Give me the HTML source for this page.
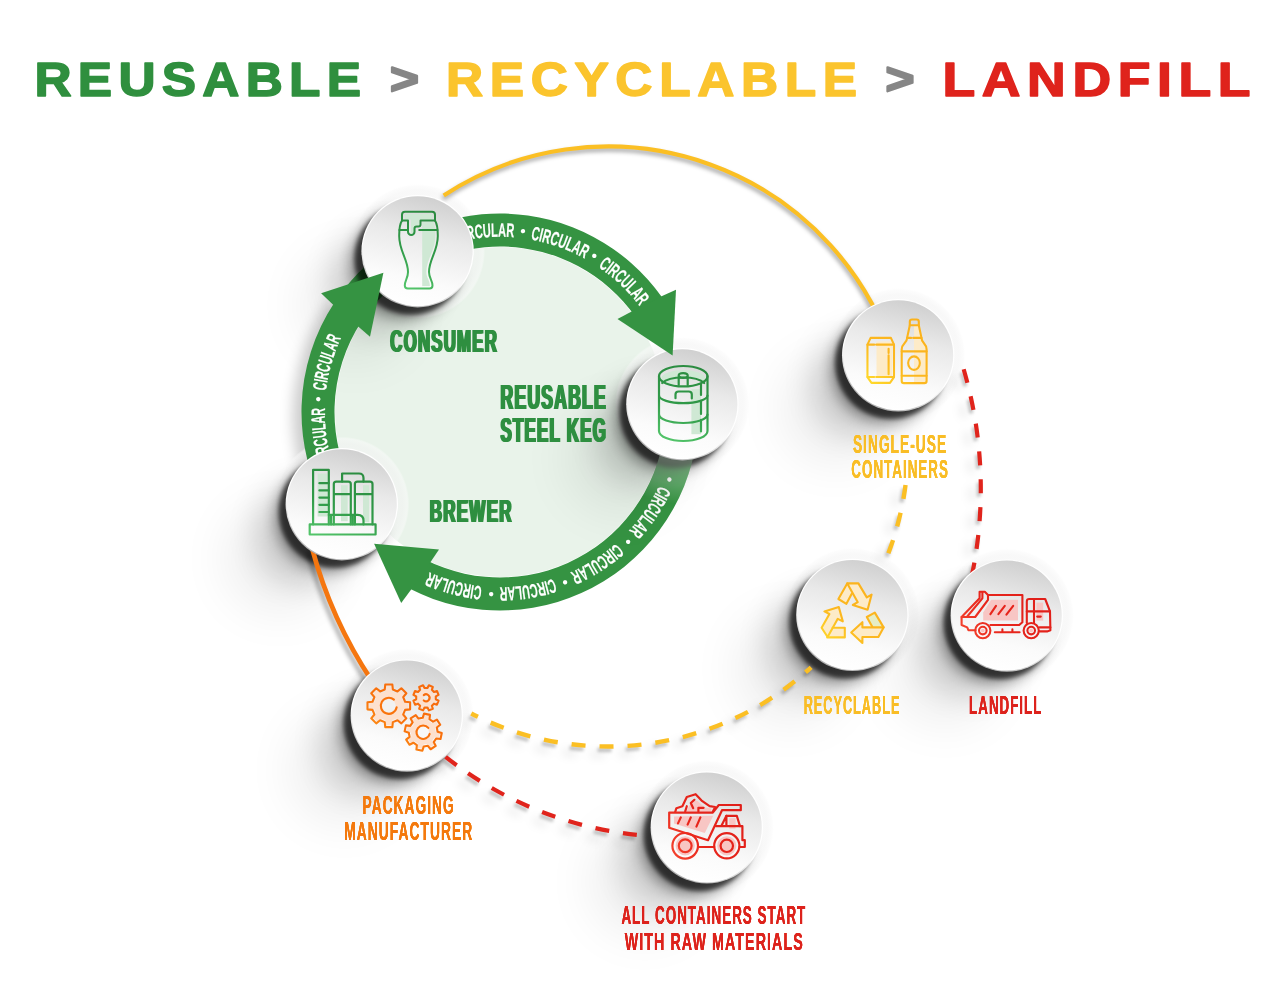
<!DOCTYPE html>
<html lang="en"><head><meta charset="utf-8"><title>Reusable &gt; Recyclable &gt; Landfill</title>
<style>
html,body{margin:0;padding:0;background:#fff;}
body{width:1284px;height:1000px;overflow:hidden;font-family:"Liberation Sans",sans-serif;}
svg{display:block}
.lab{font-family:"Liberation Sans",sans-serif;font-weight:bold}
</style></head><body>
<svg width="1284" height="1000" viewBox="0 0 1284 1000" style="opacity:0.999">
<defs>
<linearGradient id="face" x1="0.62" y1="0" x2="0.38" y2="1">
 <stop offset="0" stop-color="#cfcfcf"/><stop offset="0.35" stop-color="#e9e9e9"/><stop offset="0.75" stop-color="#fbfbfb"/><stop offset="1" stop-color="#ffffff"/>
</linearGradient>
<linearGradient id="rim" x1="0.7" y1="0" x2="0.3" y2="1">
 <stop offset="0" stop-color="#ffffff"/><stop offset="0.6" stop-color="#ffffff"/><stop offset="1" stop-color="#a8a8a8"/>
</linearGradient>
<radialGradient id="glow2" gradientUnits="userSpaceOnUse" cx="682.4" cy="404.2" r="100">
 <stop offset="0.58" stop-color="#fff" stop-opacity="0.34"/><stop offset="0.8" stop-color="#fff" stop-opacity="0.2"/><stop offset="1" stop-color="#fff" stop-opacity="0"/>
</radialGradient>
<radialGradient id="halo" cx="0.5" cy="0.5" r="0.5">
 <stop offset="0" stop-color="#f6f6f6" stop-opacity="0.6"/><stop offset="0.9" stop-color="#f4f4f4" stop-opacity="0.6"/><stop offset="0.97" stop-color="#fafafa" stop-opacity="0.55"/><stop offset="1" stop-color="#fff" stop-opacity="0"/>
</radialGradient>
<radialGradient id="glow" cx="0.5" cy="0.5" r="0.5">
 <stop offset="0.6" stop-color="#fff" stop-opacity="0.28"/><stop offset="1" stop-color="#fff" stop-opacity="0"/>
</radialGradient>
<filter id="b15" x="-50%" y="-50%" width="200%" height="200%"><feGaussianBlur stdDeviation="1.6"/></filter>
<filter id="b2" x="-50%" y="-50%" width="200%" height="200%"><feGaussianBlur stdDeviation="2"/></filter>
<filter id="b4" x="-50%" y="-50%" width="200%" height="200%"><feGaussianBlur stdDeviation="4"/></filter>
<filter id="b7" x="-50%" y="-50%" width="200%" height="200%"><feGaussianBlur stdDeviation="7"/></filter>
<filter id="b28" x="-100%" y="-100%" width="300%" height="300%"><feGaussianBlur stdDeviation="26"/></filter>
<filter id="b16" x="-60%" y="-60%" width="220%" height="220%"><feGaussianBlur stdDeviation="16"/></filter>
<filter id="fb" x="-5%" y="-10%" width="110%" height="120%"><feOffset dx="0.8" result="a"/><feOffset in="SourceGraphic" dx="-0.8" result="b"/><feMerge><feMergeNode in="a"/><feMergeNode in="b"/><feMergeNode in="SourceGraphic"/></feMerge></filter>
<filter id="fb2" x="-5%" y="-10%" width="110%" height="120%"><feOffset dx="0.38" result="a"/><feOffset in="SourceGraphic" dx="-0.38" result="b"/><feMerge><feMergeNode in="a"/><feMergeNode in="b"/><feMergeNode in="SourceGraphic"/></feMerge></filter>

<linearGradient id="gG" gradientUnits="userSpaceOnUse" x1="14" y1="-38" x2="-14" y2="38"><stop offset="0" stop-color="#2b8b40"/><stop offset="0.55" stop-color="#309a48"/><stop offset="1" stop-color="#55c76c"/></linearGradient>
<linearGradient id="gY" gradientUnits="userSpaceOnUse" x1="20" y1="-30" x2="-28" y2="28"><stop offset="0" stop-color="#fbb21c"/><stop offset="0.6" stop-color="#fcb820"/><stop offset="1" stop-color="#ffd92b"/></linearGradient>
<linearGradient id="gO" gradientUnits="userSpaceOnUse" x1="20" y1="-30" x2="-30" y2="30"><stop offset="0" stop-color="#f86a0c"/><stop offset="0.6" stop-color="#f9740d"/><stop offset="1" stop-color="#ff9a1c"/></linearGradient>
<linearGradient id="gR" gradientUnits="userSpaceOnUse" x1="30" y1="-25" x2="-40" y2="25"><stop offset="0" stop-color="#e01f19"/><stop offset="0.6" stop-color="#e8261c"/><stop offset="1" stop-color="#f5452f"/></linearGradient>
<clipPath id="diskclip"><circle cx="500" cy="412" r="166"/></clipPath>
</defs>
<rect width="1284" height="1000" fill="#fff"/>

<text transform="translate(34.5,96.4) scale(1.08,1)" font-family="Liberation Sans, sans-serif" font-weight="bold" font-size="47.6" fill="#2f8f3e" stroke="#2f8f3e" stroke-width="1.5" stroke-linejoin="round" textLength="302.3" lengthAdjust="spacing">REUSABLE</text>
<text transform="translate(390,93.8) scale(1.1,1)" font-family="Liberation Sans, sans-serif" font-weight="bold" font-size="45" fill="#868686" stroke="#868686" stroke-width="2.2" stroke-linejoin="round" textLength="27.3" lengthAdjust="spacing">&gt;</text>
<text transform="translate(446,96.4) scale(1.08,1)" font-family="Liberation Sans, sans-serif" font-weight="bold" font-size="47.6" fill="#fbc42d" stroke="#fbc42d" stroke-width="1.5" stroke-linejoin="round" textLength="380.6" lengthAdjust="spacing">RECYCLABLE</text>
<text transform="translate(885.5,93.8) scale(1.1,1)" font-family="Liberation Sans, sans-serif" font-weight="bold" font-size="45" fill="#868686" stroke="#868686" stroke-width="2.2" stroke-linejoin="round" textLength="27.7" lengthAdjust="spacing">&gt;</text>
<text transform="translate(942.5,96.4) scale(1.125,1)" font-family="Liberation Sans, sans-serif" font-weight="bold" font-size="47.6" fill="#df231c" stroke="#df231c" stroke-width="1.5" stroke-linejoin="round" textLength="273.8" lengthAdjust="spacing">LANDFILL</text>
<g opacity="0.2" filter="url(#b7)" transform="translate(-9,5)"><path d="M369.89 542.11 A184 184 0 0 1 351.14 303.85" fill="none" stroke="#000" stroke-width="28"/></g>
<circle cx="500.0" cy="412.0" r="165" fill="#e9f3ea"/>
<circle cx="417.6" cy="251.2" r="67.5" fill="url(#halo)"/>
<circle cx="682.4" cy="404.2" r="67.5" fill="url(#halo)"/>
<circle cx="341.8" cy="504.2" r="67.5" fill="url(#halo)"/>
<circle cx="898.2" cy="355.3" r="67.5" fill="url(#halo)"/>
<circle cx="852.4" cy="614.9" r="67.5" fill="url(#halo)"/>
<circle cx="1006.8" cy="615.6" r="67.5" fill="url(#halo)"/>
<circle cx="406.8" cy="715.6" r="67.5" fill="url(#halo)"/>
<circle cx="706.8" cy="827.4" r="67.5" fill="url(#halo)"/>
<path id="tp" d="M365.79 524.62 A175.2 175.2 0 1 1 634.21 299.38 A175.2 175.2 0 1 1 365.79 524.62" fill="none"/>
<circle cx="355.6" cy="305.2" r="52" fill="#000" opacity="0.075" filter="url(#b28)"/>
<circle cx="383.6" cy="279.2" r="50" fill="#000" opacity="0.17" filter="url(#b16)"/>
<circle cx="405.6" cy="264.2" r="54" fill="#000" opacity="0.4" filter="url(#b7)"/>
<circle cx="410.6" cy="258.7" r="56" fill="#000" opacity="0.62" filter="url(#b2)"/>
<path d="M328.09 511.25 A198.5 198.5 0 0 1 334.47 302.44 L361.99 320.65 A165.5 165.5 0 0 0 356.67 494.75 Z" fill="#359342"/>
<text transform="translate(318.27,398.97) rotate(274.10)" text-anchor="middle" font-family="Liberation Sans, sans-serif" font-weight="bold" font-size="15" fill="#fff" y="4.8">•</text>
<text font-family="Liberation Sans, sans-serif" font-weight="bold" font-size="19.4" fill="#fff" stroke="#fff" stroke-width="0.2"><textPath href="#tp" startOffset="143.41" textLength="55.35" lengthAdjust="spacingAndGlyphs">CIRCULAR</textPath></text>
<text font-family="Liberation Sans, sans-serif" font-weight="bold" font-size="19.4" fill="#fff" stroke="#fff" stroke-width="0.2"><textPath href="#tp" startOffset="70.94" textLength="55.35" lengthAdjust="spacingAndGlyphs">CIRCULAR</textPath></text>
<circle cx="279.8" cy="558.2" r="52" fill="#000" opacity="0.075" filter="url(#b28)"/>
<circle cx="307.8" cy="532.2" r="50" fill="#000" opacity="0.17" filter="url(#b16)"/>
<circle cx="329.8" cy="517.2" r="54" fill="#000" opacity="0.4" filter="url(#b7)"/>
<circle cx="334.8" cy="511.7" r="56" fill="#000" opacity="0.62" filter="url(#b2)"/>
<path d="M698.50 412.00 A198.5 198.5 0 0 1 409.88 588.86 L424.86 559.46 A165.5 165.5 0 0 0 665.50 412.00 Z" fill="#359342"/>
<text transform="translate(669.29,479.37) rotate(111.70)" text-anchor="middle" font-family="Liberation Sans, sans-serif" font-weight="bold" font-size="15" fill="#fff" y="4.8">•</text>
<text font-family="Liberation Sans, sans-serif" font-weight="bold" font-size="19.4" fill="#fff" stroke="#fff" stroke-width="0.2"><textPath href="#tp" startOffset="748.25" textLength="55.04" lengthAdjust="spacingAndGlyphs">CIRCULAR</textPath></text>
<text transform="translate(627.93,541.73) rotate(135.40)" text-anchor="middle" font-family="Liberation Sans, sans-serif" font-weight="bold" font-size="15" fill="#fff" y="4.8">•</text>
<text font-family="Liberation Sans, sans-serif" font-weight="bold" font-size="19.4" fill="#fff" stroke="#fff" stroke-width="0.2"><textPath href="#tp" startOffset="820.72" textLength="55.04" lengthAdjust="spacingAndGlyphs">CIRCULAR</textPath></text>
<text transform="translate(565.00,582.21) rotate(159.10)" text-anchor="middle" font-family="Liberation Sans, sans-serif" font-weight="bold" font-size="15" fill="#fff" y="4.8">•</text>
<text font-family="Liberation Sans, sans-serif" font-weight="bold" font-size="19.4" fill="#fff" stroke="#fff" stroke-width="0.2"><textPath href="#tp" startOffset="893.19" textLength="55.04" lengthAdjust="spacingAndGlyphs">CIRCULAR</textPath></text>
<text transform="translate(491.10,593.98) rotate(182.80)" text-anchor="middle" font-family="Liberation Sans, sans-serif" font-weight="bold" font-size="15" fill="#fff" y="4.8">•</text>
<text font-family="Liberation Sans, sans-serif" font-weight="bold" font-size="19.4" fill="#fff" stroke="#fff" stroke-width="0.2"><textPath href="#tp" startOffset="965.66" textLength="55.04" lengthAdjust="spacingAndGlyphs">CIRCULAR</textPath></text>
<circle cx="620.4" cy="458.2" r="52" fill="#000" opacity="0.075" filter="url(#b28)"/>
<circle cx="648.4" cy="432.2" r="50" fill="#000" opacity="0.17" filter="url(#b16)"/>
<circle cx="670.4" cy="417.2" r="54" fill="#000" opacity="0.4" filter="url(#b7)"/>
<circle cx="675.4" cy="411.7" r="56" fill="#000" opacity="0.62" filter="url(#b2)"/>
<path d="M698.50 412.00 A198.5 198.5 0 0 1 599.25 583.91 L582.75 555.33 A165.5 165.5 0 0 0 665.50 412.00 Z" fill="url(#glow2)"/>
<path d="M343.58 289.79 A198.5 198.5 0 0 1 662.20 297.58 L635.24 316.60 A165.5 165.5 0 0 0 369.58 310.11 Z" fill="#359342"/>
<clipPath id="tail1"><path d="M339.41 295.32 A198.5 198.5 0 0 1 472.37 215.43 L476.97 248.11 A165.5 165.5 0 0 0 366.11 314.72 Z"/></clipPath>
<g clip-path="url(#tail1)"><circle cx="405.6" cy="264.2" r="54" fill="#000" opacity="0.4" filter="url(#b7)"/><circle cx="410.6" cy="258.7" r="56" fill="#000" opacity="0.62" filter="url(#b2)"/></g>
<text font-family="Liberation Sans, sans-serif" font-weight="bold" font-size="19.4" fill="#fff" stroke="#fff" stroke-width="0.2"><textPath href="#tp" startOffset="353.79" textLength="57.79" lengthAdjust="spacingAndGlyphs">CIRCULAR</textPath></text>
<text font-family="Liberation Sans, sans-serif" font-weight="bold" font-size="19.4" fill="#fff" stroke="#fff" stroke-width="0.2"><textPath href="#tp" startOffset="428.09" textLength="57.79" lengthAdjust="spacingAndGlyphs">CIRCULAR</textPath></text>
<text font-family="Liberation Sans, sans-serif" font-weight="bold" font-size="19.4" fill="#fff" stroke="#fff" stroke-width="0.2"><textPath href="#tp" startOffset="501.48" textLength="57.79" lengthAdjust="spacingAndGlyphs">CIRCULAR</textPath></text>
<text transform="translate(522.84,231.24) rotate(7.20)" text-anchor="middle" font-family="Liberation Sans, sans-serif" font-weight="bold" font-size="15" fill="#fff" y="4.8">•</text>
<text transform="translate(594.11,255.99) rotate(31.10)" text-anchor="middle" font-family="Liberation Sans, sans-serif" font-weight="bold" font-size="15" fill="#fff" y="4.8">•</text>
<circle cx="836.2" cy="409.3" r="52" fill="#000" opacity="0.075" filter="url(#b28)"/>
<circle cx="864.2" cy="383.3" r="50" fill="#000" opacity="0.17" filter="url(#b16)"/>
<circle cx="886.2" cy="368.3" r="54" fill="#000" opacity="0.4" filter="url(#b7)"/>
<circle cx="891.2" cy="362.8" r="56" fill="#000" opacity="0.62" filter="url(#b2)"/>
<circle cx="790.4" cy="668.9" r="52" fill="#000" opacity="0.075" filter="url(#b28)"/>
<circle cx="818.4" cy="642.9" r="50" fill="#000" opacity="0.17" filter="url(#b16)"/>
<circle cx="840.4" cy="627.9" r="54" fill="#000" opacity="0.4" filter="url(#b7)"/>
<circle cx="845.4" cy="622.4" r="56" fill="#000" opacity="0.62" filter="url(#b2)"/>
<circle cx="944.8" cy="669.6" r="52" fill="#000" opacity="0.075" filter="url(#b28)"/>
<circle cx="972.8" cy="643.6" r="50" fill="#000" opacity="0.17" filter="url(#b16)"/>
<circle cx="994.8" cy="628.6" r="54" fill="#000" opacity="0.4" filter="url(#b7)"/>
<circle cx="999.8" cy="623.1" r="56" fill="#000" opacity="0.62" filter="url(#b2)"/>
<circle cx="344.8" cy="769.6" r="52" fill="#000" opacity="0.075" filter="url(#b28)"/>
<circle cx="372.8" cy="743.6" r="50" fill="#000" opacity="0.17" filter="url(#b16)"/>
<circle cx="394.8" cy="728.6" r="54" fill="#000" opacity="0.4" filter="url(#b7)"/>
<circle cx="399.8" cy="723.1" r="56" fill="#000" opacity="0.62" filter="url(#b2)"/>
<circle cx="644.8" cy="881.4" r="52" fill="#000" opacity="0.075" filter="url(#b28)"/>
<circle cx="672.8" cy="855.4" r="50" fill="#000" opacity="0.17" filter="url(#b16)"/>
<circle cx="694.8" cy="840.4" r="54" fill="#000" opacity="0.4" filter="url(#b7)"/>
<circle cx="699.8" cy="834.9" r="56" fill="#000" opacity="0.62" filter="url(#b2)"/>
<path d="M443.73 195.47 A300.0 300.0 0 0 1 894.89 358.79" transform="translate(-1,3)" fill="none" stroke="#000" stroke-opacity="0.35" stroke-width="4.2" filter="url(#b2)"/>
<path d="M443.73 195.47 A300.0 300.0 0 0 1 894.89 358.79" fill="none" stroke="#fbbf24" stroke-width="4.2"/>
<path d="M905.57 484.62 A300.0 300.0 0 0 1 887.06 556.63" transform="translate(-9,8)" fill="none" stroke="#000" stroke-opacity="0.07" stroke-width="6.4" stroke-dasharray="14 14.3" stroke-dashoffset="27.97" filter="url(#b4)"/>
<path d="M905.57 484.62 A300.0 300.0 0 0 1 887.06 556.63" transform="translate(-2,3.5)" fill="none" stroke="#000" stroke-opacity="0.22" stroke-width="4.4" stroke-dasharray="14 14.3" stroke-dashoffset="27.97" filter="url(#b15)"/>
<path d="M905.57 484.62 A300.0 300.0 0 0 1 887.06 556.63" fill="none" stroke="#fbbf24" stroke-width="4.4" stroke-dasharray="14 14.3" stroke-dashoffset="27.97"/>
<path d="M811.11 667.28 A300.0 300.0 0 0 1 471.27 713.53" transform="translate(-9,8)" fill="none" stroke="#000" stroke-opacity="0.07" stroke-width="6.4" stroke-dasharray="14 14.0" stroke-dashoffset="6.47" filter="url(#b4)"/>
<path d="M811.11 667.28 A300.0 300.0 0 0 1 471.27 713.53" transform="translate(-2,3.5)" fill="none" stroke="#000" stroke-opacity="0.22" stroke-width="4.4" stroke-dasharray="14 14.0" stroke-dashoffset="6.47" filter="url(#b15)"/>
<path d="M811.11 667.28 A300.0 300.0 0 0 1 471.27 713.53" fill="none" stroke="#fbbf24" stroke-width="4.4" stroke-dasharray="14 14.0" stroke-dashoffset="6.47"/>
<!-- orange -->
<path d="M312.0 548.0 A450 450 0 0 0 372 681" transform="translate(-4,3)" fill="none" stroke="#000" stroke-opacity="0.3" stroke-width="4.8" filter="url(#b2)"/>
<path d="M312.0 548.0 A450 450 0 0 0 372 681" fill="none" stroke="#f5760f" stroke-width="4.8"/>
<path d="M963.67 369.23 A426.5 426.5 0 0 1 971.75 576.28" transform="translate(-9,8)" fill="none" stroke="#000" stroke-opacity="0.07" stroke-width="6.2" stroke-dasharray="14 13.899999999999999" filter="url(#b4)"/>
<path d="M963.67 369.23 A426.5 426.5 0 0 1 971.75 576.28" transform="translate(-2,3.5)" fill="none" stroke="#000" stroke-opacity="0.22" stroke-width="4.2" stroke-dasharray="14 13.899999999999999" filter="url(#b15)"/>
<path d="M963.67 369.23 A426.5 426.5 0 0 1 971.75 576.28" fill="none" stroke="#e0241c" stroke-width="4.2" stroke-dasharray="14 13.899999999999999"/>
<path d="M636.83 834.85 A371.0 371.0 0 0 1 445.59 756.84" transform="translate(-9,8)" fill="none" stroke="#000" stroke-opacity="0.07" stroke-width="6.2" stroke-dasharray="14 13.899999999999999" filter="url(#b4)"/>
<path d="M636.83 834.85 A371.0 371.0 0 0 1 445.59 756.84" transform="translate(-2,3.5)" fill="none" stroke="#000" stroke-opacity="0.22" stroke-width="4.2" stroke-dasharray="14 13.899999999999999" filter="url(#b15)"/>
<path d="M636.83 834.85 A371.0 371.0 0 0 1 445.59 756.84" fill="none" stroke="#e0241c" stroke-width="4.2" stroke-dasharray="14 13.899999999999999"/>
<g id="btn-keg">
<circle cx="682.4" cy="404.2" r="56.2" fill="url(#rim)"/>
<circle cx="682.4" cy="404.2" r="55.0" fill="url(#face)"/>
<g transform="translate(682.4,404.2)"><rect x="9" y="-15" width="9.6" height="45" fill="#cfe8d4"/><path d="M-21 -27 A22 8.2 0 0 1 22.6 -27 L21 -21 A21 8 0 0 0 -19.4 -21 Z" fill="#cfe8d4" opacity="1"/><path d="M-16 -22 A20 7.5 0 0 1 -3.7 -27.2 V-21 A 25 9 0 0 1 -12 -20.2 Z" fill="#cfe8d4" opacity="0.8"/><path d="M-23.4 -28 A24.25 10.2 0 1 1 25.1 -28 A24.25 10.2 0 1 1 -23.4 -28 Z" fill="none" stroke="url(#gG)" stroke-width="2.2" stroke-linecap="round" stroke-linejoin="round"/><path d="M-20.2 -21.2 A22.5 8.6 0 0 1 21.8 -21.2" fill="none" stroke="url(#gG)" stroke-width="2.2" stroke-linecap="round" stroke-linejoin="round"/><path d="M-3.7 -28.7 A4.5 2.4 0 1 1 5.3 -28.7 A4.5 2.4 0 1 1 -3.7 -28.7 M-3.7 -28.7 V-19.2 M5.3 -28.7 V-19.2" fill="none" stroke="url(#gG)" stroke-width="2.2" stroke-linecap="round" stroke-linejoin="round"/><path d="M-23.4 -28 V26.8 A24.25 10 0 0 0 25.1 26.8 V-28" fill="none" stroke="url(#gG)" stroke-width="2.2" stroke-linecap="round" stroke-linejoin="round"/><path d="M-23.4 -8.7 A24.25 7.6 0 0 0 25.1 -8.7" fill="none" stroke="url(#gG)" stroke-width="2.2" stroke-linecap="round" stroke-linejoin="round"/><path d="M-23.4 10.4 A24.25 8.4 0 0 0 25.1 10.4" fill="none" stroke="url(#gG)" stroke-width="2.2" stroke-linecap="round" stroke-linejoin="round"/><path d="M-6.9 -6 V-9.7 Q-6.9 -12.7 -3.9 -12.7 H6.4 Q9.4 -12.7 9.4 -9.7 V-5.7" fill="none" stroke="url(#gG)" stroke-width="2.2" stroke-linecap="round" stroke-linejoin="round"/><path d="M18.6 -20 V-9.2 M18.6 -3.4 V9.8 M18.6 15.6 V27.3" fill="none" stroke="url(#gG)" stroke-width="2.2" stroke-linecap="round" stroke-linejoin="round"/></g>
</g>
<g id="btn-brewer">
<circle cx="341.8" cy="504.2" r="56.2" fill="url(#rim)"/>
<circle cx="341.8" cy="504.2" r="55.0" fill="url(#face)"/>
<g transform="translate(341.8,504.2)"><rect x="-24.2" y="-30.7" width="9.9" height="43" fill="#cfe8d4"/><rect x="-0.8" y="-19" width="6.7" height="36" fill="#cfe8d4"/><rect x="21.2" y="-19" width="6.3" height="37" fill="#cfe8d4"/><path d="M-32.1 20.2 H33.8 V30.3 H-32.1 Z" fill="none" stroke="url(#gG)" stroke-width="2.2" stroke-linecap="round" stroke-linejoin="round"/><path d="M-28.7 20.2 V-34.3 H-13 V20.2" fill="none" stroke="url(#gG)" stroke-width="2.2" stroke-linecap="round" stroke-linejoin="round"/><path d="M-22.4 -21 H-13 M-22.4 -13.8 H-13 M-22.4 -6.6 H-13 M-22.4 0.6 H-13 M-22.4 7.8 H-13" fill="none" stroke="url(#gG)" stroke-width="2.2" stroke-linecap="round" stroke-linejoin="round"/><path d="M-8 20.2 V-20.1 Q-8 -22.6 -5.5 -22.6 H6.5 Q9 -22.6 9 -20.1 V20.2 M-8 -10 H9" fill="none" stroke="url(#gG)" stroke-width="2.2" stroke-linecap="round" stroke-linejoin="round"/><path d="M13.1 20.2 V-20.1 Q13.1 -22.6 15.6 -22.6 H28.2 Q30.7 -22.6 30.7 -20.1 V20.2 M13.1 -10 H30.7" fill="none" stroke="url(#gG)" stroke-width="2.2" stroke-linecap="round" stroke-linejoin="round"/><path d="M0.3 -22.6 V-30.7 H17.2 Q21.7 -30.7 21.7 -26.2 V-22.6" fill="none" stroke="url(#gG)" stroke-width="2.2" stroke-linecap="round" stroke-linejoin="round"/><path d="M-13 10.7 H15.8 Q21.7 10.7 21.7 16.6 V20.2 M-10.7 10.7 V20.2 M11 10.7 V20.2" fill="none" stroke="url(#gG)" stroke-width="2.2" stroke-linecap="round" stroke-linejoin="round"/></g>
</g>
<g id="btn-consumer">
<circle cx="417.6" cy="251.2" r="56.2" fill="url(#rim)"/>
<circle cx="417.6" cy="251.2" r="55.0" fill="url(#face)"/>
<g transform="translate(417.6,251.2)"><clipPath id="cg"><path d="M-15.6 -30.7 C-18.6 -26 -18.4 -20 -18.4 -15 C-18.4 0 -9.6 8 -9.6 20.8 C-9.6 27 -12.8 29 -12.8 34.3 Q-12.8 37.3 -9.8 37.3 H11.9 Q14.9 37.3 14.9 34.3 C14.9 29 11.4 27 11.4 20.8 C11.4 8 20.2 0 20.2 -15 C20.2 -20 20.4 -26 17.4 -30.7 Z"/></clipPath><g transform="translate(-2.6,0)" clip-path="url(#cg)"><rect x="7.2" y="-29.5" width="20" height="64.4" fill="#cfe8d4"/></g><path d="M-12.8 -37.3 H15 V-31.6 H1.6 V-27 Q1.6 -25.8 0.4 -25.8 H-2 V-19.5 a2.3 2.3 0 0 1 -4.6 0 V-31.6 H-12.8 Z" fill="#cfe8d4" opacity="1"/><path d="M-15.6 -30.7 C-18.6 -26 -18.4 -20 -18.4 -15 C-18.4 0 -9.6 8 -9.6 20.8 C-9.6 27 -12.8 29 -12.8 34.3 Q-12.8 37.3 -9.8 37.3 H11.9 Q14.9 37.3 14.9 34.3 C14.9 29 11.4 27 11.4 20.8 C11.4 8 20.2 0 20.2 -15 C20.2 -20 20.4 -26 17.4 -30.7" fill="none" stroke="url(#gG)" stroke-width="2.0" stroke-linecap="round" stroke-linejoin="round"/><path d="M-15.6 -30.7 V-36.4 Q-15.6 -39.4 -12.6 -39.4 H14.4 Q17.4 -39.4 17.4 -36.4 V-30.7" fill="none" stroke="url(#gG)" stroke-width="2.0" stroke-linecap="round" stroke-linejoin="round"/><path d="M-15.6 -30.7 H-9.6 V-19.5 a3.25 3.25 0 0 0 6.5 0 V-22.7 Q-3.1 -24.7 -1.1 -24.7 H0.9 Q2.9 -24.7 2.9 -26.7 V-30.7 H17.4" fill="none" stroke="url(#gG)" stroke-width="2.0" stroke-linecap="round" stroke-linejoin="round"/><path d="M-18.2 -21.2 H-9.6 M1.6 -21.2 H19.8" fill="none" stroke="url(#gG)" stroke-width="2.0" stroke-linecap="round" stroke-linejoin="round"/></g>
</g>
<g id="btn-single">
<circle cx="898.2" cy="355.3" r="56.2" fill="url(#rim)"/>
<circle cx="898.2" cy="355.3" r="55.0" fill="url(#face)"/>
<g transform="translate(898.2,355.3)"><rect x="-21.7" y="-13.8" width="15.7" height="35" fill="#fdebc8"/><path d="M15.8 -30 H20.6 L23.3 -17.4 C23.3 -12 28.4 -12 28.4 -6 V25.5 Q28.4 27.8 26 27.8 H15.8 Z" fill="#fdebc8" opacity="1"/><path d="M-27.6 -17.4 H-7.3 L-4.2 -10.65 V21.75 L-8.2 27.6 H-26.7 L-30.75 21.75 V-10.65 Z" fill="none" stroke="url(#gY)" stroke-width="2.1" stroke-linecap="round" stroke-linejoin="round"/><path d="M-30.75 -10.65 H-24 M-22 -10.65 H-4.2 M-30.75 21.75 H-24 M-22 21.75 H-4.2" fill="none" stroke="url(#gY)" stroke-width="2.1" stroke-linecap="round" stroke-linejoin="round"/><path d="M-9.6 -6.6 V-2.3 M-9.6 -0.1 V19" fill="none" stroke="url(#gY)" stroke-width="2.1" stroke-linecap="round" stroke-linejoin="round"/><path d="M11.6 -30 V-33.6 Q11.6 -35.8 13.8 -35.8 H18.4 Q20.6 -35.8 20.6 -33.6 V-30 Z" fill="none" stroke="url(#gY)" stroke-width="2.1" stroke-linecap="round" stroke-linejoin="round"/><path d="M11.6 -30 L8.9 -17.4 C8.9 -12 3.5 -12 3.5 -6 V25.6 Q3.5 27.8 5.7 27.8 H26.2 Q28.4 27.8 28.4 25.6 V-6 C28.4 -12 23.3 -12 23.3 -17.4 L20.6 -30" fill="none" stroke="url(#gY)" stroke-width="2.1" stroke-linecap="round" stroke-linejoin="round"/><path d="M8.9 -17.4 H13 M15 -17.4 H23.3 M3.5 -3.9 H28.4 M3.5 20.4 H28.4" fill="none" stroke="url(#gY)" stroke-width="2.1" stroke-linecap="round" stroke-linejoin="round"/><path d="M9.95 7.8 A5.85 6.75 0 1 1 21.65 7.8 A5.85 6.75 0 1 1 9.95 7.8 Z" fill="none" stroke="url(#gY)" stroke-width="2.1" stroke-linecap="round" stroke-linejoin="round"/></g>
</g>
<g id="btn-recycle">
<circle cx="852.4" cy="614.9" r="56.2" fill="url(#rim)"/>
<circle cx="852.4" cy="614.9" r="55.0" fill="url(#face)"/>
<g transform="translate(852.4,614.9)"><path d="M -5.20 -31.50 L 6.00 -31.50 L 14.40 -17.50 L 19.20 -20.30 L 15.20 -5.10 L 0.40 -9.90 L 5.36 -12.70 L -4.00 -29.50 Z" fill="#fdebc8" opacity="1"/><path d="M -5.20 -31.50 L -14.00 -15.90 L -6.00 -11.10 L -0.64 -21.10 Z" fill="#fdebc8" opacity="1"/><path d="M -1.20 17.70 L 10.00 7.30 L 10.00 12.50 L 31.20 12.50 L 26.00 22.10 L 10.00 22.10 L 10.00 28.10 Z" fill="#fdebc8" opacity="1"/><path d="M 31.20 12.50 L 22.40 -2.30 L 14.40 2.10 L 20.00 12.10 Z" fill="#e6edc4" opacity="1"/><path d="M -28.00 -3.50 L -13.60 -7.90 L -9.60 6.50 L -14.64 3.94 L -24.80 22.10 L -30.80 12.90 L -22.96 -0.86 Z" fill="#fdebc8" opacity="1"/><path d="M -19.76 12.90 H -7.60 V 22.50 H -25.20 Z" fill="#fdebc8" opacity="1"/><path d="M -5.20 -31.50 L 6.00 -31.50 L 14.40 -17.50 L 19.20 -20.30 L 15.20 -5.10 L 0.40 -9.90 L 5.36 -12.70 L -4.00 -29.50 Z" fill="none" stroke="url(#gY)" stroke-width="2.1" stroke-linecap="round" stroke-linejoin="round" stroke-linejoin="miter"/><path d="M -5.20 -31.50 L -14.00 -15.90 L -6.00 -11.10 L -0.64 -21.10" fill="none" stroke="url(#gY)" stroke-width="2.1" stroke-linecap="round" stroke-linejoin="round" stroke-linejoin="miter"/><path d="M -1.20 17.70 L 10.00 7.30 L 10.00 12.50 L 31.20 12.50 L 26.00 22.10 L 10.00 22.10 L 10.00 28.10 Z" fill="none" stroke="url(#gY)" stroke-width="2.1" stroke-linecap="round" stroke-linejoin="round" stroke-linejoin="miter"/><path d="M 31.20 12.50 L 22.40 -2.30 L 14.40 2.10 L 20.00 12.10" fill="none" stroke="url(#gY)" stroke-width="2.1" stroke-linecap="round" stroke-linejoin="round" stroke-linejoin="miter"/><path d="M -28.00 -3.50 L -13.60 -7.90 L -9.60 6.50 L -14.64 3.94 L -24.80 22.10 L -30.80 12.90 L -22.96 -0.86 Z" fill="none" stroke="url(#gY)" stroke-width="2.1" stroke-linecap="round" stroke-linejoin="round" stroke-linejoin="miter"/><path d="M -19.76 12.90 H -7.60 V 22.50 H -25.20" fill="none" stroke="url(#gY)" stroke-width="2.1" stroke-linecap="round" stroke-linejoin="round" stroke-linejoin="miter"/></g>
</g>
<g id="btn-landfill">
<circle cx="1006.8" cy="615.6" r="56.2" fill="url(#rim)"/>
<circle cx="1006.8" cy="615.6" r="55.0" fill="url(#face)"/>
<g transform="translate(1006.8,615.6)"><path d="M -15.60 -15.80 L 11.20 -15.80 L 11.20 5.00 L -23.60 5.00 L -23.60 -3.00 Z" fill="#f8c6c4" opacity="1"/><path d="M 29.60 -13.00 L 36.40 -13.00 L 36.40 5.00 L 29.60 5.00 Z" fill="#f8c6c4" opacity="1"/><circle cx="-24" cy="15" r="1.9" fill="#f8c6c4"/><circle cx="24.4" cy="15" r="1.9" fill="#f8c6c4"/><path d="M -31.20 14.60 L -38.40 14.60 L -39.60 11.80 L -45.20 9.40 L -45.20 1.40 L -27.20 -17.40 L -27.20 -23.80 L -22.00 -23.80 L -18.80 -20.60 L 15.60 -20.60 L 15.60 6.60 L 12.40 9.40 L -16.40 9.40" fill="none" stroke="url(#gR)" stroke-width="2.1" stroke-linecap="round" stroke-linejoin="round"/><path d="M -18.80 -20.60 L -18.80 -15.80 L -31.60 1.40 L -45.20 1.40" fill="none" stroke="url(#gR)" stroke-width="2.1" stroke-linecap="round" stroke-linejoin="round"/><path d="M -24.40 -23.56 L -24.40 -17.24 L -39.76 1.16" fill="none" stroke="url(#gR)" stroke-width="2.1" stroke-linecap="round" stroke-linejoin="round"/><path d="M -10.80 -9.80 L -16.40 -1.40 M -2.00 -9.80 L -8.40 -1.40 M 6.40 -9.80 L -0.40 -1.00" fill="none" stroke="url(#gR)" stroke-width="2.1" stroke-linecap="round" stroke-linejoin="round"/><path d="M -12.00 16.60 L 12.80 16.60 M -4.40 13.80 L -4.40 16.60 M 5.60 13.80 L 5.60 16.60" fill="none" stroke="url(#gR)" stroke-width="2.1" stroke-linecap="round" stroke-linejoin="round"/><circle cx="-24" cy="15" r="7.6" fill="none" stroke="url(#gR)" stroke-width="2.1"/><circle cx="-24" cy="15" r="3.8" fill="none" stroke="url(#gR)" stroke-width="2.1"/><circle cx="24.4" cy="15" r="7.6" fill="none" stroke="url(#gR)" stroke-width="2.1"/><circle cx="24.4" cy="15" r="3.8" fill="none" stroke="url(#gR)" stroke-width="2.1"/><path d="M 20.00 7.40 L 20.00 -14.20 Q 20.00 -16.60 22.40 -16.60 L 38.40 -16.60 L 43.20 -4.20 L 43.60 14.60 L 40.80 15.80 L 32.40 15.80" fill="none" stroke="url(#gR)" stroke-width="2.1" stroke-linecap="round" stroke-linejoin="round"/><path d="M 27.20 -16.60 L 27.20 7.40 M 20.00 -4.20 L 43.20 -4.20 M 32.80 11.80 L 43.60 11.80 M 30.40 1.00 L 34.00 1.00" fill="none" stroke="url(#gR)" stroke-width="2.1" stroke-linecap="round" stroke-linejoin="round"/></g>
</g>
<g id="btn-pack">
<circle cx="406.8" cy="715.6" r="56.2" fill="url(#rim)"/>
<circle cx="406.8" cy="715.6" r="55.0" fill="url(#face)"/>
<g transform="translate(406.8,715.6)"><path d="M-21.45 -24.19 L-20.76 -29.20 L-15.24 -29.20 L-14.55 -24.19 L-10.27 -22.42 L-6.23 -25.47 L-2.33 -21.57 L-5.38 -17.53 L-3.61 -13.25 L1.40 -12.56 L1.40 -7.04 L-3.61 -6.35 L-5.38 -2.07 L-2.33 1.97 L-6.23 5.87 L-10.27 2.82 L-14.55 4.59 L-15.24 9.60 L-20.76 9.60 L-21.45 4.59 L-25.73 2.82 L-29.77 5.87 L-33.67 1.97 L-30.62 -2.07 L-32.39 -6.35 L-37.40 -7.04 L-37.40 -12.56 L-32.39 -13.25 L-30.62 -17.53 L-33.67 -21.57 L-29.77 -25.47 L-25.73 -22.42 Z" fill="#fde0cd" opacity="1"/><path d="M20.44 -25.60 L21.91 -28.36 L24.75 -27.18 L23.84 -24.19 L25.59 -22.44 L28.58 -23.35 L29.76 -20.51 L27.00 -19.04 L27.00 -16.56 L29.76 -15.09 L28.58 -12.25 L25.59 -13.16 L23.84 -11.41 L24.75 -8.42 L21.91 -7.24 L20.44 -10.00 L17.96 -10.00 L16.49 -7.24 L13.65 -8.42 L14.56 -11.41 L12.81 -13.16 L9.82 -12.25 L8.64 -15.09 L11.40 -16.56 L11.40 -19.04 L8.64 -20.51 L9.82 -23.35 L12.81 -22.44 L14.56 -24.19 L13.65 -27.18 L16.49 -28.36 L17.96 -25.60 Z" fill="#fde0cd" opacity="1"/><path d="M16.08 4.20 L17.53 0.04 L22.10 1.01 L21.74 5.41 L24.94 7.61 L28.91 5.69 L31.46 9.61 L28.09 12.46 L28.80 16.28 L32.96 17.73 L31.99 22.30 L27.59 21.94 L25.39 25.14 L27.31 29.11 L23.39 31.66 L20.54 28.29 L16.72 29.00 L15.27 33.16 L10.70 32.19 L11.06 27.79 L7.86 25.59 L3.89 27.51 L1.34 23.59 L4.71 20.74 L4.00 16.92 L-0.16 15.47 L0.81 10.90 L5.21 11.26 L7.41 8.06 L5.49 4.09 L9.41 1.54 L12.26 4.91 Z" fill="#fde0cd" opacity="1"/><path d="M-22.05 -26.10 L-21.55 -31.11 L-14.45 -31.11 L-13.95 -26.10 L-9.33 -24.19 L-5.44 -27.37 L-0.43 -22.36 L-3.61 -18.47 L-1.70 -13.85 L3.31 -13.35 L3.31 -6.25 L-1.70 -5.75 L-3.61 -1.13 L-0.43 2.76 L-5.44 7.77 L-9.33 4.59 L-13.95 6.50 L-14.45 11.51 L-21.55 11.51 L-22.05 6.50 L-26.67 4.59 L-30.56 7.77 L-35.57 2.76 L-32.39 -1.13 L-34.30 -5.75 L-39.31 -6.25 L-39.31 -13.35 L-34.30 -13.85 L-32.39 -18.47 L-35.57 -22.36 L-30.56 -27.37 L-26.67 -24.19 Z" fill="none" stroke="url(#gO)" stroke-width="2.1" stroke-linecap="round" stroke-linejoin="round" stroke-linejoin="miter"/><path d="M20.67 -27.59 L22.11 -30.37 L26.03 -28.75 L25.08 -25.76 L27.16 -23.68 L30.15 -24.63 L31.77 -20.71 L28.99 -19.27 L28.99 -16.33 L31.77 -14.89 L30.15 -10.97 L27.16 -11.92 L25.08 -9.84 L26.03 -6.85 L22.11 -5.23 L20.67 -8.01 L17.73 -8.01 L16.29 -5.23 L12.37 -6.85 L13.32 -9.84 L11.24 -11.92 L8.25 -10.97 L6.63 -14.89 L9.41 -16.33 L9.41 -19.27 L6.63 -20.71 L8.25 -24.63 L11.24 -23.68 L13.32 -25.76 L12.37 -28.75 L16.29 -30.37 L17.73 -27.59 Z" fill="none" stroke="url(#gO)" stroke-width="2.1" stroke-linecap="round" stroke-linejoin="round" stroke-linejoin="miter"/><path d="M15.91 2.21 L17.23 -1.98 L23.20 -0.71 L22.70 3.65 L26.23 6.08 L30.12 4.05 L33.45 9.17 L30.01 11.90 L30.79 16.11 L34.98 17.43 L33.71 23.40 L29.35 22.90 L26.92 26.43 L28.95 30.32 L23.83 33.65 L21.10 30.21 L16.89 30.99 L15.57 35.18 L9.60 33.91 L10.10 29.55 L6.57 27.12 L2.68 29.15 L-0.65 24.03 L2.79 21.30 L2.01 17.09 L-2.18 15.77 L-0.91 9.80 L3.45 10.30 L5.88 6.77 L3.85 2.88 L8.97 -0.45 L11.70 2.99 Z" fill="none" stroke="url(#gO)" stroke-width="2.1" stroke-linecap="round" stroke-linejoin="round" stroke-linejoin="miter"/><circle cx="-18" cy="-9.8" r="6.9" fill="#f1f1f1"/><circle cx="16.4" cy="16.6" r="5.8" fill="#f8f8f8"/><circle cx="19.2" cy="-17.8" r="2.6" fill="#ededed"/><path d="M-10.12 -8.41 A8.0 8.0 0 1 1 -12.86 -15.93" fill="none" stroke="url(#gO)" stroke-width="2.1" stroke-linecap="round" stroke-linejoin="round"/><path d="M22.87 18.33 A6.7 6.7 0 1 1 21.53 12.29" fill="none" stroke="url(#gO)" stroke-width="2.1" stroke-linecap="round" stroke-linejoin="round"/><path d="M16.95 -20.48 A3.5 3.5 0 1 1 16.95 -15.12" fill="none" stroke="url(#gO)" stroke-width="2.1" stroke-linecap="round" stroke-linejoin="round"/></g>
</g>
<g id="btn-raw">
<circle cx="706.8" cy="827.4" r="56.2" fill="url(#rim)"/>
<circle cx="706.8" cy="827.4" r="55.0" fill="url(#face)"/>
<g transform="translate(706.8,827.4)"><path d="M -32.80 -10.80 L 6.40 -11.60 L -2.00 5.60 L -32.80 -4.00 Z" fill="#f8c6c4" opacity="1"/><path d="M -20.40 -16.00 L -14.80 -27.20 L -9.20 -26.40 L -2.00 -20.00 L 4.40 -18.80 L 4.40 -15.60 Z" fill="#f8c6c4" opacity="1"/><path d="M 22.40 -9.20 L 28.80 -9.20 L 28.80 1.20 L 22.40 1.20 Z" fill="#f8c6c4" opacity="1"/><circle cx="-21.6" cy="18.4" r="9.6" fill="#f8c6c4"/><circle cx="20" cy="18.4" r="9.6" fill="#f8c6c4"/><path d="M -37.60 -14.80 L 6.00 -14.80 L 12.00 -22.40 L 34.00 -22.40 L 34.00 -17.20 L 15.20 -17.20 L 1.20 12.80 L -37.60 0.40 Z" fill="none" stroke="url(#gR)" stroke-width="2.2" stroke-linecap="round" stroke-linejoin="round"/><path d="M -26.00 -10.00 L -28.80 -4.00 M -16.00 -10.00 L -19.20 -2.80 M -6.40 -10.00 L -10.40 -0.80" fill="none" stroke="url(#gR)" stroke-width="2.2" stroke-linecap="round" stroke-linejoin="round"/><path d="M -31.60 -15.60 L -30.40 -19.20 L -24.40 -21.20 L -20.00 -30.40 L -11.20 -33.20 L -5.20 -26.80 L 2.80 -21.20 L 8.40 -20.40 L 6.00 -15.60" fill="none" stroke="url(#gR)" stroke-width="2.2" stroke-linecap="round" stroke-linejoin="round"/><path d="M -20.00 -21.20 L -21.60 -16.00 M -12.40 -27.60 L -16.00 -24.40 L -13.60 -19.20 M -8.40 -16.00 L -8.40 -19.60 L -3.20 -19.60" fill="none" stroke="url(#gR)" stroke-width="2.2" stroke-linecap="round" stroke-linejoin="round"/><circle cx="-21.6" cy="18.4" r="12.8" fill="none" stroke="url(#gR)" stroke-width="2.2"/><circle cx="-21.6" cy="18.4" r="6.4" fill="none" stroke="url(#gR)" stroke-width="2.2"/><circle cx="20" cy="18.4" r="12.6" fill="none" stroke="url(#gR)" stroke-width="2.2"/><circle cx="20" cy="18.4" r="6.2" fill="none" stroke="url(#gR)" stroke-width="2.2"/><path d="M -8.64 19.60 L 7.44 19.60" fill="none" stroke="url(#gR)" stroke-width="2.2" stroke-linecap="round" stroke-linejoin="round"/><path d="M 19.60 -11.60 L 30.00 -11.60 L 33.20 -1.20 L 35.60 -1.20 L 35.60 12.80 L 38.00 12.80 L 38.00 19.60 L 32.80 19.60" fill="none" stroke="url(#gR)" stroke-width="2.2" stroke-linecap="round" stroke-linejoin="round"/><path d="M 19.60 -11.60 L 19.60 -1.20 M 9.20 -1.20 L 33.20 -1.20 M 19.60 -11.60 L 14.40 -1.20" fill="none" stroke="url(#gR)" stroke-width="2.2" stroke-linecap="round" stroke-linejoin="round"/></g>
</g>
<polygon points="676.0,289.7 672.6,355.4 617.5,319.1 631.2,311.8 661.0,296.5" fill="#359342"/>
<polygon points="374.1,543.7 439.0,549.4 430.4,562.2 410.8,590.1 401.2,603.0" fill="#359342"/>
<polygon points="383.4,272.8 321.1,293.3 332.9,304.4 358.5,326.8 370.0,336.8" fill="#359342"/>
<text class="lab" x="390.3" y="352.1" font-size="31.42" fill="#2e8f40" textLength="107.7" lengthAdjust="spacingAndGlyphs" letter-spacing="2.36" filter="url(#fb)">CONSUMER</text>
<text class="lab" x="500.6" y="408.6" font-size="34.36" fill="#2e8f40" textLength="106.4" lengthAdjust="spacingAndGlyphs" letter-spacing="2.58" filter="url(#fb)">REUSABLE</text>
<text class="lab" x="500.6" y="441.6" font-size="34.36" fill="#2e8f40" textLength="106.4" lengthAdjust="spacingAndGlyphs" letter-spacing="2.58" filter="url(#fb)">STEEL KEG</text>
<text class="lab" x="429.7" y="521.5" font-size="31.15" fill="#2e8f40" textLength="83.1" lengthAdjust="spacingAndGlyphs" letter-spacing="2.34" filter="url(#fb)">BREWER</text>
<text class="lab" x="852.9" y="452.7" font-size="25.14" fill="#f9bd25" textLength="94.3" lengthAdjust="spacingAndGlyphs" letter-spacing="1.89" filter="url(#fb2)">SINGLE-USE</text>
<text class="lab" x="851.3" y="478.3" font-size="25.14" fill="#f9bd25" textLength="97.6" lengthAdjust="spacingAndGlyphs" letter-spacing="1.89" filter="url(#fb2)">CONTAINERS</text>
<text class="lab" x="803.7" y="713.6" font-size="25.00" fill="#f9bd25" textLength="96.7" lengthAdjust="spacingAndGlyphs" letter-spacing="1.88" filter="url(#fb2)">RECYCLABLE</text>
<text class="lab" x="969.1" y="713.6" font-size="25.00" fill="#dd231b" textLength="73.2" lengthAdjust="spacingAndGlyphs" letter-spacing="1.88" filter="url(#fb2)">LANDFILL</text>
<text class="lab" x="362.6" y="813.6" font-size="25.14" fill="#f4790f" textLength="92.0" lengthAdjust="spacingAndGlyphs" letter-spacing="1.89" filter="url(#fb2)">PACKAGING</text>
<text class="lab" x="344.3" y="839.8" font-size="25.14" fill="#f4790f" textLength="129.0" lengthAdjust="spacingAndGlyphs" letter-spacing="1.89" filter="url(#fb2)">MANUFACTURER</text>
<text class="lab" x="621.4" y="924.3" font-size="25.00" fill="#dd231b" textLength="184.9" lengthAdjust="spacingAndGlyphs" letter-spacing="1.88" filter="url(#fb2)">ALL CONTAINERS START</text>
<text class="lab" x="624.7" y="950.2" font-size="24.44" fill="#dd231b" textLength="179.1" lengthAdjust="spacingAndGlyphs" letter-spacing="1.83" filter="url(#fb2)">WITH RAW MATERIALS</text>
</svg></body></html>
